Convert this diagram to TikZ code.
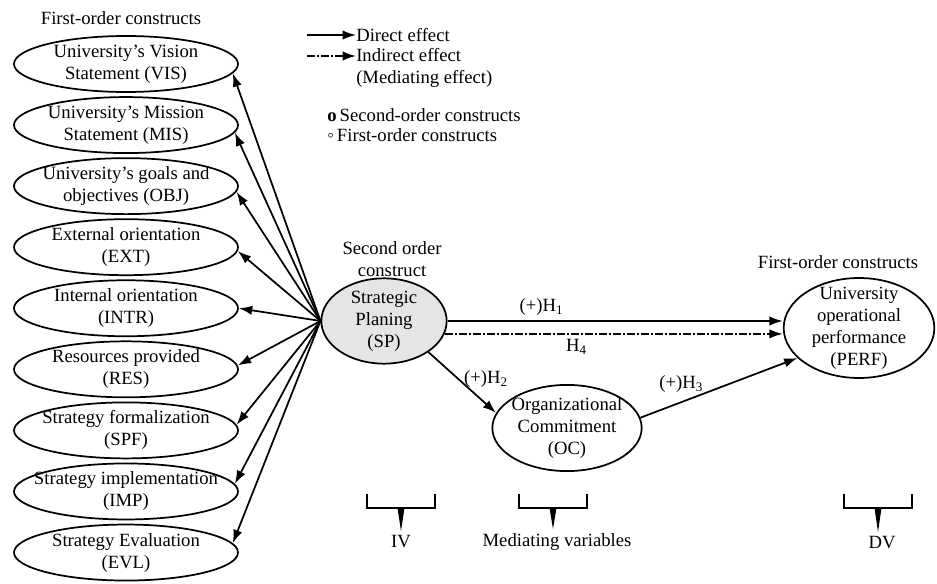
\documentclass[tikz,border=0pt]{standalone}
\usepackage{fontspec}
\setmainfont{Liberation Serif}
\usetikzlibrary{shapes.geometric, arrows.meta, positioning}

\tikzstyle{firstorder} = [
    ellipse,
    draw=black,
    line width=1.3pt,
    align=center,
    inner xsep=-20pt,
    inner ysep=0pt,
    minimum width=168pt,
    minimum height=42pt
]
\tikzstyle{secondorder} = [
    ellipse,
    draw=black,
    line width=1.3pt,
    fill=gray!20,
    align=center,
    inner sep=0pt,
    minimum width=94pt,
    minimum height=62pt
]
\tikzstyle{mediator} = [
    ellipse,
    draw=black,
    line width=1.3pt,
    align=center,
    inner xsep=-2pt,
    inner ysep=0pt,
    minimum width=112pt,
    minimum height=64pt
]
\tikzstyle{outcome} = [
    ellipse,
    draw=black,
    line width=1.3pt,
    align=center,
    inner xsep=0pt,
    inner ysep=-4.5pt,
    minimum width=113pt,
    minimum height=75pt
]
\tikzstyle{caption} = [align=center, inner sep=1pt]
\tikzstyle{key} = [anchor=west, inner sep=0pt]
\tikzstyle{arrow} = [line width=1.3pt,->,>={Latex[length=10pt,width=7pt]}]
\tikzstyle{indirect} = [arrow, dash pattern=on 6pt off 1.5pt on 1.5pt off 1.5pt]
\tikzstyle{bracket} = [line width=1.6pt]

\begin{document}
\begin{tikzpicture}[x=0.75pt, y=-0.75pt, node distance=45.8pt,
    every node/.style={font=\fontsize{14}{16.5}\selectfont}]

\useasboundingbox (0,0) rectangle (937,584);

% first-order constructs of strategic planning
\node (vis) [firstorder] at (126,64) {University's Vision\\Statement (VIS)};

\node (mis) [firstorder, below of=vis] {University's Mission\\Statement (MIS)};

\node (obj) [firstorder, below of=mis] {University's goals and\\objectives (OBJ)};

\node (ext) [firstorder, below of=obj] {External orientation\\(EXT)};

\node (intr) [firstorder, below of=ext] {Internal orientation\\(INTR)};

\node (res) [firstorder, below of=intr] {Resources provided\\(RES)};

\node (spf) [firstorder, below of=res] {Strategy formalization\\(SPF)};

\node (imp) [firstorder, below of=spf] {Strategy implementation\\(IMP)};

\node (evl) [firstorder, below of=imp] {Strategy Evaluation\\(EVL)};

\node (firstleft) [caption] at (121,18) {First-order constructs};

% second-order construct, mediator, outcome
\node (sp) [secondorder] at (384,321) {Strategic\\Planing\\(SP)};

\node (second) [caption] at (392,259) {Second order\\construct};

\node (oc) [mediator] at (567,428) {Organizational\\Commitment\\(OC)};

\node (perf) [outcome] at (859,328) {University\\operational\\performance\\(PERF)};

\node (firstright) [caption] at (838,262) {First-order constructs};

% legend
\coordinate (ldirect) at (307,35);
\node (direct) [key] at (356,35) {Direct effect};
\coordinate (lindirect) at (307,56);
\node (indirectlbl) [key, anchor=north west, align=left] at (356,48)
{Indirect effect\\(Mediating effect)};
\node (constructkey) [key, anchor=north west, align=left] at (327,108)
{\textbf{o}\,Second-order constructs\\[-1pt]◦\,First-order constructs};

\draw [arrow] (ldirect) -- (direct);
\draw [indirect] (lindirect) -- (lindirect -| indirectlbl.west);

% SP to its first-order constructs
\draw [arrow] (sp.west) -- (vis.-5);
\draw [arrow] (sp.west) -- (mis.-4);
\draw [arrow] (sp.west) -- (obj.-3);
\draw [arrow] (sp.west) -- (ext.-2);
\draw [arrow] (sp.west) -- (intr.east);
\draw [arrow] (sp.west) -- (res.2);
\draw [arrow] (sp.west) -- (spf.3);
\draw [arrow] (sp.west) -- (imp.4);
\draw [arrow] (sp.west) -- (evl.5);

% hypotheses
\draw [arrow] (sp.east) -- node (h1) [above, pos=0.28] {(+)H\textsubscript{1}} (sp.east -| perf.west);
\draw [indirect] (sp.-12) -- node (h4) [below, pos=0.39] {H\textsubscript{4}} (sp.-12 -| perf.west);
\draw [arrow] (sp.-35) -- node (h2) [right, pos=0.45] {(+)H\textsubscript{2}} (oc.168);
\draw [arrow] (oc.8) -- node (h3) [above=3pt, pos=0.26] {(+)H\textsubscript{3}} (perf.206);

% brackets
\node (iv) at (401,542) {IV};
\draw [bracket] (367,494) -- (367,508) -- (435,508) -- (435,494);
\coordinate (ivtop) at (401,508);
\fill (ivtop) ++(-3.5,0) -- ++(7,0) -- (iv.north) -- cycle;

\node (med) at (557,542) {Mediating variables};
\draw [bracket] (519,494) -- (519,508) -- (587,508) -- (587,494);
\coordinate (medtop) at (553,508);
\fill (medtop) ++(-3.5,0) -- ++(7,0) -- (medtop |- med.north) -- cycle;

\node (dv) at (882,543) {DV};
\draw [bracket] (844,494) -- (844,508) -- (912,508) -- (912,494);
\coordinate (dvtop) at (878,508);
\fill (dvtop) ++(-3.5,0) -- ++(7,0) -- (dvtop |- dv.north) -- cycle;

\end{tikzpicture}
\end{document}
